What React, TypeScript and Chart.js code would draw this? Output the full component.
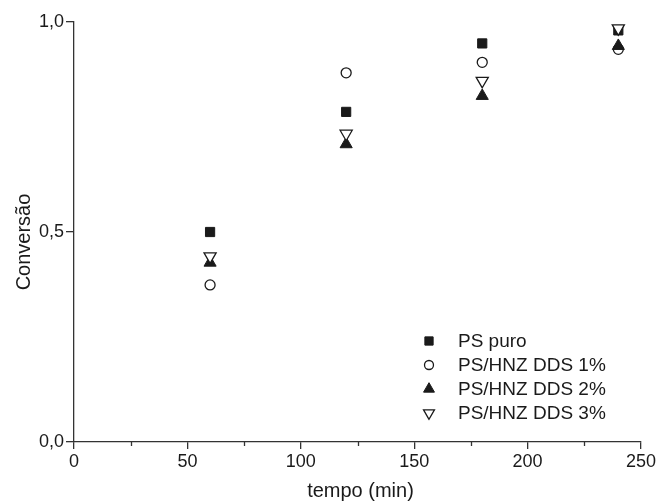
import React, { useEffect, useRef } from "react";
import { Chart, registerables } from "chart.js";
import { drawPoint } from "chart.js/helpers";

Chart.register(...registerables);

const times = [60, 120, 180, 240];
const psPuro = [0.5, 0.786, 0.949, 0.98];
const dds1 = [0.374, 0.879, 0.904, 0.935];
const dds2 = [0.427, 0.709, 0.824, 0.943];
const dds3 = [0.442, 0.734, 0.86, 0.985];
const seriesNames = ["PS puro", "PS/HNZ DDS 1%", "PS/HNZ DDS 2%", "PS/HNZ DDS 3%"];
const xTicks = [0, 50, 100, 150, 200, 250];
const xMinorTicks = [25, 75, 125, 175, 225];
const yTickLabels = ["0,0", "0,5", "1,0"];
const xTitle = "tempo (min)";
const yTitle = "Conversão";

const INK = "#1a1a1a";
const AXIS = "#333333";
const FONT = "'Liberation Sans', Arial, sans-serif";

const styles = [
  { pointStyle: "rect", radius: 6.5, rotation: 0, bg: INK, bw: 1 },
  { pointStyle: "circle", radius: 5, rotation: 0, bg: "#ffffff", bw: 1.3 },
  { pointStyle: "triangle", radius: 7, rotation: 0, bg: INK, bw: 1 },
  { pointStyle: "triangle", radius: 7, rotation: 180, bg: "#ffffff", bw: 1.3 },
];

export default function App() {
  const ref = useRef<HTMLCanvasElement | null>(null);

  useEffect(() => {
    const canvas = ref.current;
    if (!canvas) return;
    const allSeries = [psPuro, dds1, dds2, dds3];

    const overlay = {
      id: "overlay",
      afterDraw(chart: any) {
        const ctx = chart.ctx;
        const xs = chart.scales.x;
        const ys = chart.scales.y;
        const ca = chart.chartArea;
        ctx.save();
        // minor ticks
        ctx.strokeStyle = AXIS;
        ctx.lineWidth = 1.3;
        xMinorTicks.forEach((v) => {
          const px = Math.round(xs.getPixelForValue(v)) + 0.5;
          ctx.beginPath();
          ctx.moveTo(px, ca.bottom);
          ctx.lineTo(px, ca.bottom + 4);
          ctx.stroke();
        });
        // titles
        ctx.fillStyle = INK;
        ctx.font = `20px ${FONT}`;
        ctx.textAlign = "center";
        ctx.textBaseline = "alphabetic";
        ctx.fillText(xTitle, (ca.left + ca.right) / 2 + 3, 497);
        ctx.save();
        ctx.translate(30, (ca.top + ca.bottom) / 2 + 10);
        ctx.rotate(-Math.PI / 2);
        ctx.fillText(yTitle, 0, 0);
        ctx.restore();
        // legend
        ctx.font = `19px ${FONT}`;
        ctx.textAlign = "left";
        ctx.textBaseline = "middle";
        seriesNames.forEach((name, i) => {
          const y = 341 + i * 24;
          const s = styles[i];
          ctx.fillStyle = s.bg;
          ctx.strokeStyle = INK;
          ctx.lineWidth = s.bw;
          drawPoint(ctx, { pointStyle: s.pointStyle as any, radius: s.radius * 0.9, rotation: s.rotation, borderWidth: s.bw }, 429, y);
          ctx.fillStyle = INK;
          ctx.fillText(name, 458, y + 1);
        });
        ctx.restore();
      },
    };

    const chart = new Chart(canvas, {
      type: "scatter",
      data: {
        datasets: allSeries.map((vals, i) => ({
          label: seriesNames[i],
          data: times.map((t, j) => ({ x: t, y: vals[j] })),
          showLine: false,
          pointStyle: styles[i].pointStyle as any,
          pointRadius: styles[i].radius,
          pointHoverRadius: styles[i].radius,
          rotation: styles[i].rotation,
          backgroundColor: styles[i].bg,
          borderColor: INK,
          borderWidth: styles[i].bw,
          order: 4 - i,
        })),
      },
      options: {
        responsive: false,
        animation: false,
        events: [],
        layout: { padding: { left: 0, right: 18, top: 22, bottom: 0 } },
        plugins: { legend: { display: false }, tooltip: { enabled: false } },
        scales: {
          x: {
            type: "linear",
            min: 0,
            max: 250,
            afterFit: (s: any) => {
              s.height = 60;
            },
            afterBuildTicks: (s: any) => {
              s.ticks = xTicks.map((v) => ({ value: v }));
            },
            ticks: {
              color: INK,
              font: { family: FONT, size: 18 },
              padding: 2,
              maxRotation: 0,
              autoSkip: false,
              callback: (v: any) => String(v),
            },
            grid: { drawOnChartArea: false, tickLength: 7, color: AXIS, lineWidth: 1.3 },
            border: { display: true, color: AXIS, width: 1.3 },
          },
          y: {
            type: "linear",
            min: 0,
            max: 1,
            afterFit: (s: any) => {
              s.width = 74;
            },
            afterBuildTicks: (s: any) => {
              s.ticks = [0, 0.5, 1].map((v) => ({ value: v }));
            },
            ticks: {
              color: INK,
              font: { family: FONT, size: 18 },
              padding: 2,
              autoSkip: false,
              callback: (_v: any, idx: number) => yTickLabels[idx],
            },
            grid: { drawOnChartArea: false, tickLength: 8, color: AXIS, lineWidth: 1.3 },
            border: { display: true, color: AXIS, width: 1.3 },
          },
        },
      },
      plugins: [overlay],
    });
    return () => chart.destroy();
  }, []);

  return (
    <div style={{ position: "fixed", left: 0, top: 0, width: 659, height: 502, background: "#fff" }}>
      <canvas ref={ref} width={659} height={502} style={{ display: "block" }} />
    </div>
  );
}
